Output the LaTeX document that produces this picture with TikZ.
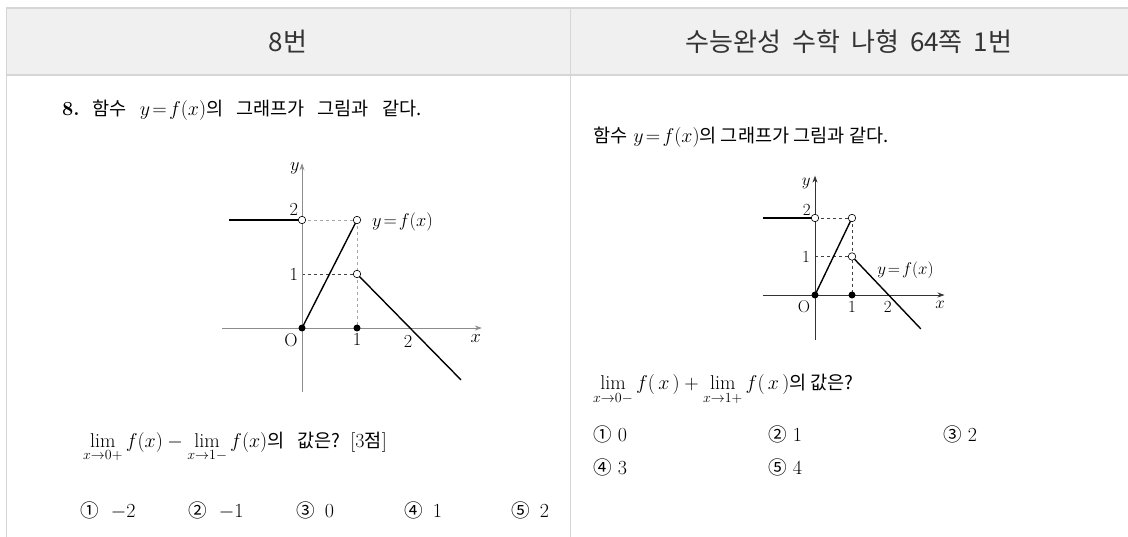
\RequirePackage{fix-cm}
\documentclass[tikz,border=0pt]{standalone}
\usepackage{amsmath}
\usepackage{fontspec}
\newfontfamily\kr[Scale=0.93]{Noto Sans CJK KR}
\newfontfamily\krhead{Noto Sans CJK KR}
\usetikzlibrary{arrows.meta,positioning}
\definecolor{headfill}{HTML}{F0F0F0}
\definecolor{rulegray}{HTML}{D6D6D6}
\definecolor{axisgray}{HTML}{8C8C8C}
\definecolor{headtext}{HTML}{333333}
\newcommand{\bodysize}{\fontsize{20}{24}\selectfont}
\newcommand{\wsp}{\hspace{13pt}}

\begin{document}
\begin{tikzpicture}
		[x=1pt, y=-1pt, inner sep=0pt,
		head/.style		= {font=\krhead\fontsize{26}{30}\selectfont, text=headtext},
		body/.style		= {anchor=base west, font=\bodysize},
		axisline/.style	= {-{Stealth[length=7pt, width=5pt]}, draw=axisgray, line width=0.8pt},
		graphline/.style	= {line width=1.4pt},
		guide/.style	= {dashed, draw=gray!70, line width=0.6pt},
		hole/.style		= {circle, draw, fill=white, minimum size=7.5pt, line width=0.6pt},
		dot/.style		= {circle, fill, minimum size=7pt},
		ticklab/.style	= {font=\fontsize{18.4}{20}\selectfont},
		smalllab/.style	= {font=\fontsize{17}{19}\selectfont}]
		
		\path [use as bounding box] (0,0) rectangle (1128,537);
		
		% table
		\fill [headfill] (6.5,8) rectangle (1128,75);
		\draw [rulegray, line width=1.5pt] (1128,8) -- (6.5,8) -- (6.5,537);
		\draw [rulegray, line width=1.5pt] (6.5,75) -- (1128,75);
		\draw [rulegray, line width=1pt] (570,8) -- (570,537);
		
		\node at (288,42)	[head]	(h8)	{8번};
		\node at (849,42)	[head]	(hsrc)	{수능완성\hspace{11pt}수학\hspace{11pt}나형\hspace{11pt}64쪽\hspace{11pt}1번};
		
		% left: problem 8
		\node at (62,116)	[body]	(q8)	{\textbf{8.}\wsp{\kr 함수}\wsp$y\!=\!f(x)${\kr 의\wsp 그래프가\wsp 그림과\wsp 같다.}};
		
		\begin{scope}[shift={(302,328)}, x=55pt, y=54pt]
		\coordinate (lxs)	at (-1.45,0);
		\coordinate (lxe)	at (3.27,0);
		\coordinate (lys)	at (0,-1.19);
		\coordinate (lye)	at (0,3.05);
		\coordinate (lc)	at (-1.33,2);
		\coordinate (lend)	at (2.89,-0.96);
		\coordinate (lo)	at (0,0);
		\coordinate (lb)	at (1,0);
		\coordinate (lp)	at (0,2);
		\coordinate (lq)	at (1,2);
		\coordinate (lr)	at (1,1);
		\coordinate (ls)	at (0,1);
		
		\draw [guide] (lp) -- (lq);
		\draw [guide] (lq) -- (lb);
		\draw [guide, draw=black!75] (ls) -- (lr);
		
		\draw [axisline] (lxs) -- (lxe);
		\draw [axisline] (lys) -- (lye);
		
		\draw [graphline] (lc) -- (lp);
		\draw [graphline] (lo) -- (lq);
		\draw [graphline] (lr) -- (lend);
		
		\node at (lo)	[dot]	(lod)	{};
		\node at (lb)	[dot]	(lbd)	{};
		\node at (lp)	[hole]	(lph)	{};
		\node at (lq)	[hole]	(lqh)	{};
		\node at (lr)	[hole]	(lrh)	{};
		
		\node at (-0.13,2.96)	[ticklab]	(lly)	{$y$};
		\node at (-0.15,2.2)	[ticklab]	(ll2)	{2};
		\node at (-0.15,1)		[ticklab]	(ll1)	{1};
		\node at (-0.2,-0.22)	[ticklab]	(llo)	{O};
		\node at (1,-0.22)		[ticklab]	(lx1)	{1};
		\node at (1.93,-0.25)	[ticklab]	(lx2)	{2};
		\node at (3.16,-0.19)	[ticklab]	(llx)	{$x$};
		\node at (1.27,1.96)	[ticklab, anchor=west]	(lf)	{$y\!=\!f(x)$};
		\end{scope}
		
		\node at (83,447)	[body]	(lim8)	{$\displaystyle\lim_{x\to0+}f(x)-\lim_{x\to1-}f(x)${\kr 의\wsp 값은?}\enspace[3{\kr 점}]};
		
		\node at (80,517)	[body]	(c81)	{{\kr ①}\hspace{12pt}$-2$};
		\node at (188,517)	[body]	(c82)	{{\kr ②}\hspace{12pt}$-1$};
		\node at (296,517)	[body]	(c83)	{{\kr ③}\hspace{10pt}0};
		\node at (404,517)	[body]	(c84)	{{\kr ④}\hspace{10pt}1};
		\node at (511,517)	[body]	(c85)	{{\kr ⑤}\hspace{10pt}2};
		
		% right: textbook problem
		\node at (593,143)	[body]	(q1)	{{\kr 함수} $y\!=\!f(x)${\kr 의 그래프가 그림과 같다.}};
		
		\begin{scope}[shift={(815,295)}, x=37pt, y=38.5pt]
		\coordinate (rxs)	at (-1.4,0);
		\coordinate (rxe)	at (3.5,0);
		\coordinate (rys)	at (0,-1.17);
		\coordinate (rye)	at (0,3.1);
		\coordinate (rc)	at (-1.4,2);
		\coordinate (rend)	at (2.86,-0.88);
		\coordinate (ro)	at (0,0);
		\coordinate (rb)	at (1,0);
		\coordinate (rp)	at (0,2);
		\coordinate (rq)	at (1,2);
		\coordinate (rr)	at (1,1);
		\coordinate (rs)	at (0,1);
		
		\draw [guide, draw=black!75] (rp) -- (rq);
		\draw [guide, draw=black!75] (rq) -- (rb);
		\draw [guide, draw=black!75] (rs) -- (rr);
		
		\draw [axisline, draw=black!80] (rxs) -- (rxe);
		\draw [axisline, draw=black!80] (rys) -- (rye);
		
		\draw [graphline] (rc) -- (rp);
		\draw [graphline] (ro) -- (rq);
		\draw [graphline] (rr) -- (rend);
		
		\node at (ro)	[dot]	(rod)	{};
		\node at (rb)	[dot]	(rbd)	{};
		\node at (rp)	[hole]	(rph)	{};
		\node at (rq)	[hole]	(rqh)	{};
		\node at (rr)	[hole]	(rrh)	{};
		
		\node at (-0.24,2.9)	[smalllab]	(rly)	{$y$};
		\node at (-0.22,2.2)	[smalllab]	(rl2)	{2};
		\node at (-0.24,1)		[smalllab]	(rl1)	{1};
		\node at (-0.3,-0.31)	[smalllab]	(rlo)	{O};
		\node at (1,-0.31)		[smalllab]	(rx1)	{1};
		\node at (1.97,-0.31)	[smalllab]	(rx2)	{2};
		\node at (3.38,-0.26)	[smalllab]	(rlx)	{$x$};
		\node at (1.68,0.65)	[smalllab, anchor=west]	(rf)	{$y\!=\!f(x)$};
		\end{scope}
		
		\node at (593,390)	[body]	(lim1)	{$\displaystyle\lim_{x\to0-}f(\,x\,)+\lim_{x\to1+}f(\,x\,)${\kr 의 값은?}};
		
		\node at (593,442)	[body]	(c11)	{{\kr ①} 0};
		\node at (768,442)	[body]	(c12)	{{\kr ②} 1};
		\node at (943,442)	[body]	(c13)	{{\kr ③} 2};
		\node at (593,475)	[body]	(c14)	{{\kr ④} 3};
		\node at (768,475)	[body]	(c15)	{{\kr ⑤} 4};
		
		\end{tikzpicture}
\end{document}
